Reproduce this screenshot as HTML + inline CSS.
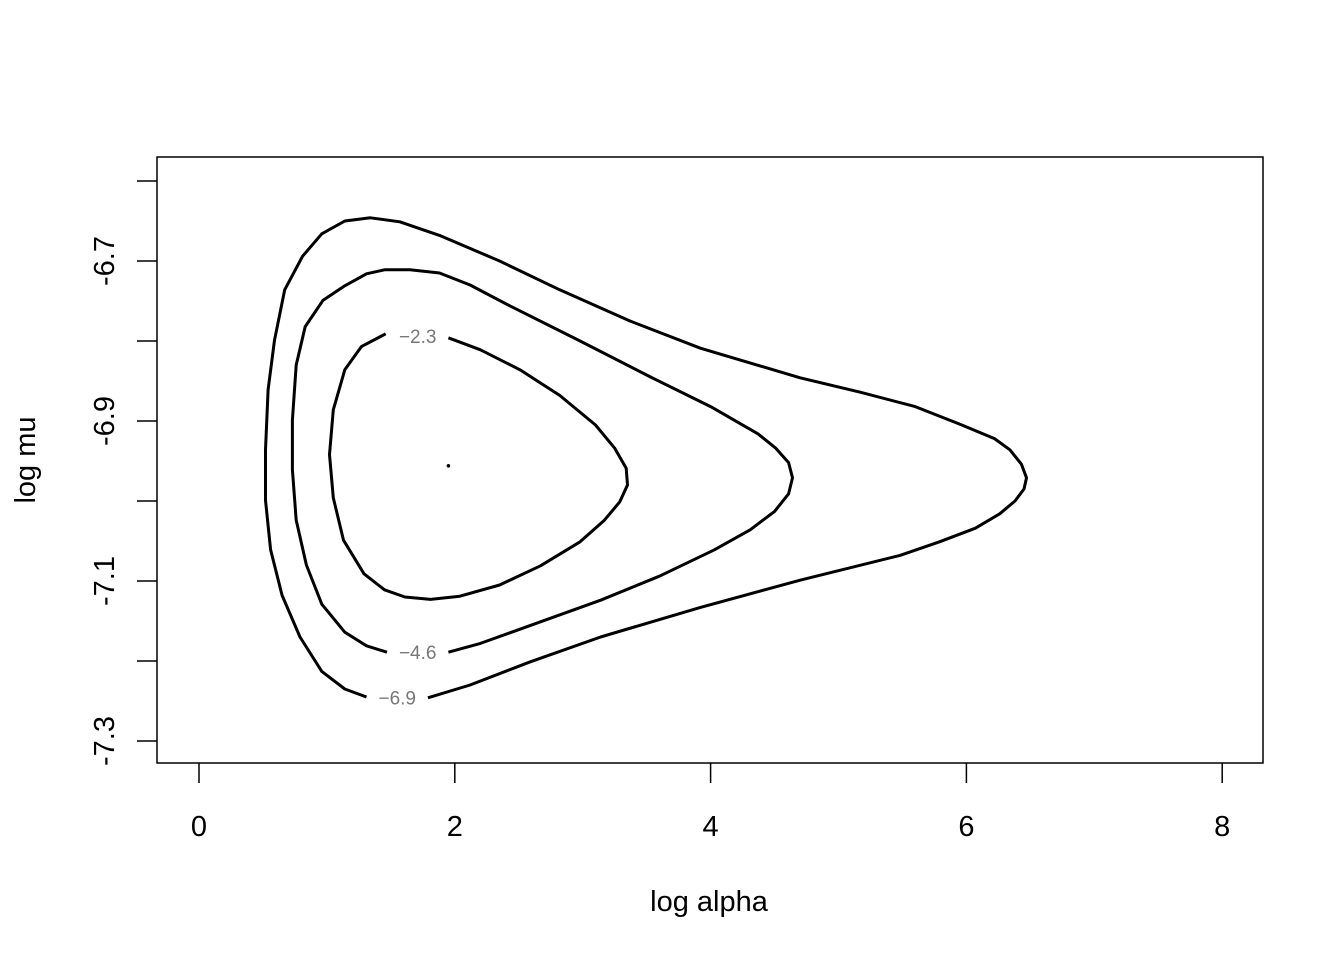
<!DOCTYPE html>
<html><head><meta charset="utf-8"><style>
body{margin:0;background:#fff}
svg text{font-family:"Liberation Sans",sans-serif}
</style></head><body>
<svg id="chart" width="1344" height="960" xmlns="http://www.w3.org/2000/svg">
<rect x="157" y="157" width="1106" height="606" fill="none" stroke="#000" stroke-width="1.5"/>
<g id="axes"></g>
<g id="contours"></g>
<text x="709" y="911" font-size="29" text-anchor="middle">log alpha</text>
<text transform="translate(35,460) rotate(-90)" font-size="29" text-anchor="middle">log mu</text>
</svg>
<script>
const xTicks=[0,2,4,6,8];
const yTicks=[-6.6,-6.7,-6.8,-6.9,-7.0,-7.1,-7.2,-7.3];
const yTickLabels=["-6.7","-6.9","-7.1","-7.3"];
const levelNames=["-2.3","-4.6","-6.9"];
const innerA=[1.95,2.20,2.51,2.82,3.10,3.25,3.34,3.35,3.29,3.17,2.98,2.67,2.35,2.04,1.81,1.61,1.45,1.29,1.13,1.05,1.02,1.05,1.14,1.27,1.46];
const innerM=[-6.796,-6.811,-6.836,-6.868,-6.905,-6.934,-6.959,-6.980,-7.001,-7.024,-7.051,-7.081,-7.105,-7.119,-7.123,-7.120,-7.111,-7.091,-7.049,-6.996,-6.942,-6.886,-6.836,-6.807,-6.791];
const midA=[1.95,2.20,2.67,3.14,3.60,4.03,4.31,4.50,4.61,4.64,4.61,4.51,4.37,4.00,3.53,2.98,2.43,2.12,1.88,1.65,1.45,1.31,1.14,0.97,0.83,0.76,0.73,0.73,0.76,0.84,0.96,1.14,1.31,1.47];
const midM=[-7.189,-7.178,-7.151,-7.124,-7.094,-7.061,-7.036,-7.013,-6.991,-6.971,-6.952,-6.934,-6.916,-6.882,-6.845,-6.800,-6.756,-6.730,-6.715,-6.711,-6.711,-6.716,-6.731,-6.749,-6.782,-6.830,-6.899,-6.961,-7.024,-7.080,-7.129,-7.164,-7.181,-7.189];
const outerA=[1.79,2.12,2.59,3.14,3.92,4.70,5.48,5.79,6.07,6.26,6.38,6.45,6.47,6.43,6.34,6.22,5.95,5.60,5.17,4.70,3.92,3.37,2.82,2.35,1.88,1.57,1.34,1.14,0.96,0.81,0.67,0.59,0.54,0.52,0.52,0.56,0.65,0.79,0.96,1.14,1.31];
const outerM=[-7.246,-7.230,-7.201,-7.170,-7.133,-7.099,-7.068,-7.051,-7.034,-7.016,-7.000,-6.985,-6.971,-6.954,-6.936,-6.922,-6.904,-6.882,-6.864,-6.846,-6.809,-6.775,-6.736,-6.700,-6.668,-6.651,-6.646,-6.650,-6.666,-6.694,-6.736,-6.799,-6.861,-6.936,-6.999,-7.061,-7.118,-7.170,-7.213,-7.235,-7.245];
const peakA=[1.95], peakM=[-6.956];
const labelA=[1.71,1.71,1.55], labelM=[-6.795,-7.19,-7.247];

const X=a=>199+a*127.9;
const Y=m=>261-(m+6.7)*800;
const NS="http://www.w3.org/2000/svg";
const ax=document.getElementById('axes'), cg=document.getElementById('contours');
function mk(t,at,p){const e=document.createElementNS(NS,t);for(const k in at)e.setAttribute(k,at[k]);p.appendChild(e);return e;}
xTicks.forEach(v=>{
  const l=mk('line',{x1:X(v),x2:X(v),y1:763,y2:783,stroke:'#000','stroke-width':1.5},ax);
  
  
  const t=mk('text',{x:X(v),y:836,'font-size':29,'text-anchor':'middle'},ax);t.textContent=v;
  
  
});
yTicks.forEach(v=>{
  const l=mk('line',{x1:137,x2:157,y1:Y(v),y2:Y(v),stroke:'#000','stroke-width':1.5},ax);
  
  
});
yTickLabels.forEach(s=>{
  const t=mk('text',{transform:`translate(114,${Y(+s)}) rotate(-90)`,'font-size':29,'text-anchor':'middle'},ax);t.textContent=s;
  
  
});
[[innerA,innerM,'contour-level-2-3'],[midA,midM,'contour-level-4-6'],[outerA,outerM,'contour-level-6-9']].forEach(([A,M,n])=>{
  const d=A.map((a,i)=>(i?'L':'M')+X(a).toFixed(1)+','+Y(M[i]).toFixed(1)).join(' ');
  const p=mk('path',{d:d,fill:'none',stroke:'#000','stroke-width':3,'stroke-linejoin':'round'},cg);
  
  
});
peakA.forEach((a,i)=>{
  const c=mk('circle',{cx:X(a),cy:Y(peakM[i]),r:1.8,fill:'#000'},cg);
  
  
});
levelNames.forEach((s,i)=>{
  const t=mk('text',{x:X(labelA[i]),y:Y(labelM[i])+6,'font-size':19,fill:'#777','text-anchor':'middle'},cg);
  t.textContent='\u2212'+s.slice(1);
  
  
});
</script>
</body></html>
